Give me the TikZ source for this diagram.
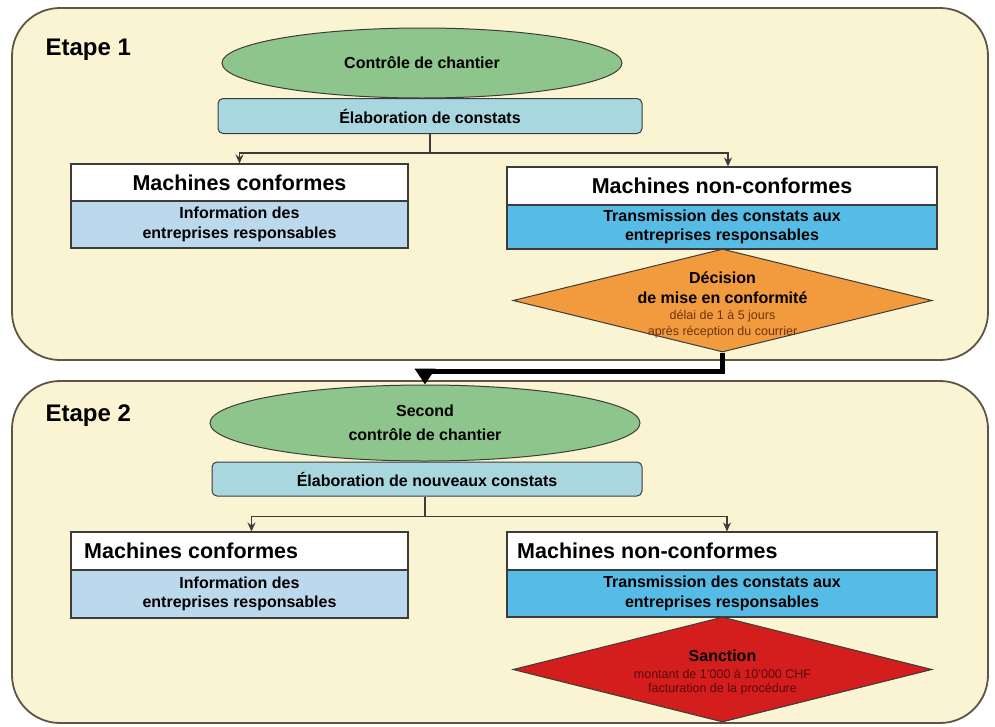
\documentclass[tikz,border=0pt]{standalone}
\usepackage{fontspec}
\setmainfont{Liberation Sans}
\usetikzlibrary{shapes.geometric,arrows.meta}
\definecolor{panelbg}{HTML}{FAF4D2}
\definecolor{panelline}{HTML}{5E5546}
\definecolor{ellgreen}{HTML}{8DC58C}
\definecolor{elabblue}{HTML}{A9D7E0}
\definecolor{infoblue}{HTML}{BCD8EC}
\definecolor{transblue}{HTML}{57BCE5}
\definecolor{orangeD}{HTML}{F29A3E}
\definecolor{redD}{HTML}{D41E1E}
\definecolor{boxline}{HTML}{3C3C3C}
\definecolor{browntxt}{HTML}{6B3410}
\definecolor{darkred}{HTML}{5E0808}
\begin{document}
\begin{tikzpicture}[x=1pt,y=-1pt,
  panel/.style={draw=panelline, line width=1.8pt, fill=panelbg, rounded corners=48pt, inner sep=0pt},
  ellbox/.style={ellipse, draw=boxline, line width=1pt, fill=ellgreen, inner sep=0pt, font=\bfseries\fontsize{16}{24}\selectfont, align=center},
  elabbox/.style={rectangle, rounded corners=5pt, draw=boxline, line width=1pt, fill=elabblue, inner sep=0pt, font=\bfseries\fontsize{16}{19}\selectfont},
  whitebox/.style={rectangle, draw=boxline, line width=1.1pt, fill=white, inner sep=0pt, font=\bfseries\fontsize{21.5}{24}\selectfont},
  boxtitle/.style={inner sep=0pt, font=\bfseries\fontsize{21.5}{24}\selectfont},
  infobox/.style={rectangle, draw=boxline, line width=1.1pt, fill=infoblue, inner sep=0pt, font=\bfseries\fontsize{16}{19.5}\selectfont, align=center},
  transbox/.style={rectangle, draw=boxline, line width=1.1pt, fill=transblue, inner sep=0pt, font=\bfseries\fontsize{16}{19.5}\selectfont, align=center},
  diam/.style={diamond, draw=boxline, line width=1pt, inner sep=0pt, minimum width=419pt},
  dhead/.style={inner sep=0pt, font=\bfseries\fontsize{16}{19}\selectfont},
  dsmall/.style={inner sep=0pt, font=\fontsize{12.5}{15}\selectfont},
  stagetxt/.style={font=\bfseries\fontsize{24}{28}\selectfont, anchor=base west},
  conn/.style={draw=boxline, line width=1.2pt},
  arr/.style={conn, -{Stealth[length=9pt,width=8pt]}},
  bigarrow/.style={draw=black, line width=5pt, -{Triangle[length=16pt,width=20pt]}}
]
\useasboundingbox (0,0) rectangle (995,726);
\fill[white] (0,0) rectangle (995,726);

% panels
\node[panel, minimum width=976pt, minimum height=352pt] (p1) at (500,184) {};
\node[panel, minimum width=976pt, minimum height=342pt] (p2) at (500,552) {};
\node[stagetxt] (s1) at (42,55) {Etape 1};
\node[stagetxt] (s2) at (42,421) {Etape 2};

% stage 1
\node[ellbox, minimum width=400pt, minimum height=70pt] (el1) at (422,63) {Contrôle de chantier};
\node[elabbox, minimum width=424pt, minimum height=35pt] (eb1) at (430,116) {Élaboration de constats};
\node[whitebox, minimum width=337pt, minimum height=37pt] (lw1) at (239.5,182.5) {Machines conformes};
\node[infobox, minimum width=337pt, minimum height=47pt] (lb1) at (239.5,224.5) {Information des\\entreprises responsables};
\node[whitebox, minimum width=430pt, minimum height=38pt] (rw1) at (722,186) {Machines non-conformes};
\node[transbox, minimum width=430pt, minimum height=44pt] (rb1) at (722,227) {Transmission des constats aux\\entreprises responsables};
\node[diam, fill=orangeD, minimum height=103pt] (d1) at (722.5,300.5) {};
\node[dhead] (d1a) at (722.5,278) {Décision};
\node[dhead] (d1b) at (722.5,298) {de mise en conformité};
\node[dsmall, text=browntxt] (d1c) at (722.5,316) {délai de 1 à 5 jours};
\node[dsmall, text=browntxt] (d1d) at (722.5,332) {après réception du courrier};

\draw[conn] (eb1.south) -- ++(0,19) coordinate (j1);
\draw[arr] (j1) -| (lw1.north);
\draw[arr] (j1) -| ([xshift=6pt]rw1.north);

% stage 2
\node[ellbox, minimum width=430pt, minimum height=76pt] (el2) at (425,423) {Second\\contrôle de chantier};
\node[elabbox, minimum width=430pt, minimum height=34pt] (eb2) at (427,479) {Élaboration de nouveaux constats};
\node[whitebox, minimum width=337pt, minimum height=38pt] (lw2) at (239.5,551) {};
\node[boxtitle, anchor=west] (lw2t) at (84,551) {Machines conformes};
\node[infobox, minimum width=337pt, minimum height=48pt] (lb2) at (239.5,594) {Information des\\entreprises responsables};
\node[whitebox, minimum width=430pt, minimum height=38pt] (rw2) at (722,551) {};
\node[boxtitle, anchor=west] (rw2t) at (517,551) {Machines non-conformes};
\node[transbox, minimum width=430pt, minimum height=47pt] (rb2) at (722,593.5) {Transmission des constats aux\\entreprises responsables};
\node[diam, fill=redD, minimum height=105pt] (d2) at (722.5,669.5) {};
\node[dhead] (d2a) at (722.5,656) {Sanction};
\node[dsmall, text=darkred] (d2b) at (722.5,674) {montant de 1'000 à 10'000 CHF};
\node[dsmall, text=darkred] (d2c) at (722.5,689) {facturation de la procédure};

\draw[conn] ([xshift=-2pt]eb2.south) -- ++(0,20) coordinate (j2);
\draw[arr] (j2) -| ([xshift=12pt]lw2.north);
\draw[arr] (j2) -| ([xshift=5pt]rw2.north);

% transition arrow
\draw[bigarrow] (d1.south) -- ++(0,19) -| (el2.north);
\end{tikzpicture}
\end{document}
